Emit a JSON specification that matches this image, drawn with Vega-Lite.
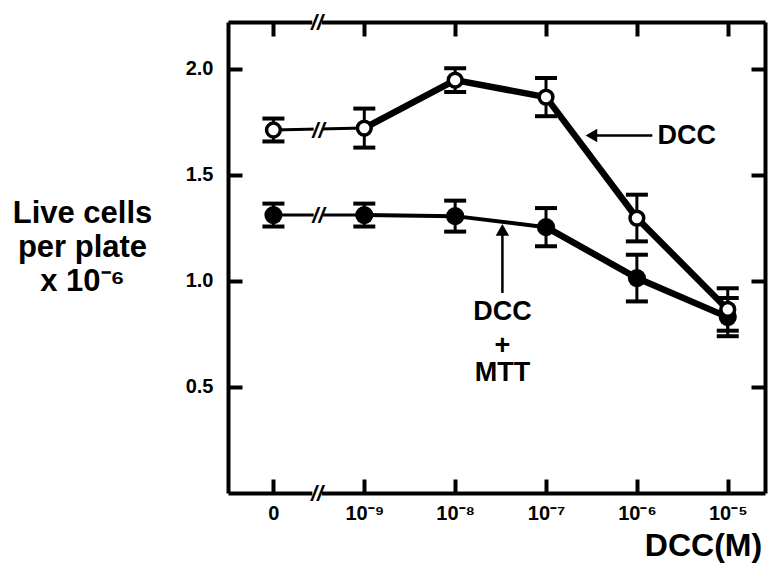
{
  "$schema": "https://vega.github.io/schema/vega-lite/v6.json",
  "width": 537,
  "height": 471,
  "autosize": "none",
  "padding": {"left": 228, "top": 22, "right": 9, "bottom": 85},
  "background": "white",
  "config": {
    "view": {"stroke": null},
    "font": "Liberation Sans",
    "axis": {
      "domainColor": "black",
      "domainWidth": 4,
      "labelFont": "Liberation Sans",
      "labelFontSize": 20,
      "labelColor": "black",
      "titleFont": "Liberation Sans",
      "titleColor": "black",
      "titleFontWeight": "bold"
    }
  },
  "datasets": {
    "pts": [
      {"i": 0, "conc": "0", "series": "DCC", "y": 1.711, "err": 0.054},
      {"i": 1, "conc": "1e-9", "series": "DCC", "y": 1.72, "err": 0.092},
      {"i": 2, "conc": "1e-8", "series": "DCC", "y": 1.946, "err": 0.056},
      {"i": 3, "conc": "1e-7", "series": "DCC", "y": 1.866, "err": 0.09},
      {"i": 4, "conc": "1e-6", "series": "DCC", "y": 1.296, "err": 0.11},
      {"i": 5, "conc": "1e-5", "series": "DCC", "y": 0.865, "err": 0.1},
      {"i": 0, "conc": "0", "series": "DCC+MTT", "y": 1.31, "err": 0.054},
      {"i": 1, "conc": "1e-9", "series": "DCC+MTT", "y": 1.31, "err": 0.054},
      {"i": 2, "conc": "1e-8", "series": "DCC+MTT", "y": 1.305, "err": 0.073},
      {"i": 3, "conc": "1e-7", "series": "DCC+MTT", "y": 1.253, "err": 0.09},
      {"i": 4, "conc": "1e-6", "series": "DCC+MTT", "y": 1.013, "err": 0.11},
      {"i": 5, "conc": "1e-5", "series": "DCC+MTT", "y": 0.829, "err": 0.09}
    ],
    "breaks": [
      {"x": 0.495, "y": 1.712, "where": "line"},
      {"x": 0.495, "y": 1.31, "where": "line"},
      {"x": 0.48, "y": 0, "where": "axis"},
      {"x": 0.48, "y": 2.22, "where": "axis"}
    ],
    "labels": [
      {"x": 4.55, "y": 1.685, "label": "DCC"},
      {"x": 2.52, "y": 0.853, "label": "DCC"},
      {"x": 2.52, "y": 0.695, "label": "+"},
      {"x": 2.52, "y": 0.565, "label": "MTT"}
    ],
    "arrows": [
      {"x": 3.5, "x2": 4.17, "y": 1.685, "y2": 1.685, "dir": "left"},
      {"x": 2.52, "x2": 2.52, "y": 0.943, "y2": 1.24, "dir": "up"}
    ]
  },
  "resolve": {"axis": {"x": "independent", "y": "independent"}},
  "layer": [
    {
      "data": {"name": "pts"},
      "transform": [{"filter": "datum.i <= 1"}],
      "mark": {"type": "line", "color": "black", "strokeWidth": 3},
      "encoding": {
        "x": {"field": "i", "type": "quantitative", "scale": {"domain": [-0.5, 5.41], "nice": false, "zero": false},
          "axis": {"orient": "bottom", "grid": false, "values": [0, 1, 2, 3, 4, 5], "tickColor": "black", "tickWidth": 4, "tickSize": -14, "title": "DCC(M)", "titleFontSize": 32, "titleAlign": "center", "titleX": 475, "titleY": 62, "titleBaseline": "alphabetic", "labelPadding": 24, "labelFontWeight": "bold",
            "labelExpr": "['0','10⁻⁹','10⁻⁸','10⁻⁷','10⁻⁶','10⁻⁵'][datum.value]"}},
        "y": {"field": "y", "type": "quantitative", "scale": {"domain": [0, 2.22], "nice": false},
          "axis": {"orient": "left", "grid": false, "values": [0.5, 1, 1.5, 2], "tickColor": "black", "tickWidth": 4, "tickSize": -14, "format": ".1f", "labelPadding": 29, "labelFontWeight": "bold",
            "title": ["Live cells", "per plate", "x 10⁻⁶"], "titleAngle": 0, "titleAlign": "center", "titleBaseline": "top", "titleX": -146, "titleY": 176, "titleFontSize": 31, "titleLineHeight": 34}},
        "detail": {"field": "series"}
      }
    },
    {
      "data": {"name": "pts"},
      "transform": [{"filter": "datum.i >= 1 && datum.series == 'DCC'"}],
      "mark": {"type": "line", "color": "black", "strokeWidth": 6.5},
      "encoding": {
        "x": {"field": "i", "type": "quantitative", "axis": {"orient": "top", "grid": false, "values": [0, 1, 2, 3, 4, 5], "tickColor": "black", "tickWidth": 4, "tickSize": -14, "labels": false, "title": null}},
        "y": {"field": "y", "type": "quantitative", "axis": {"orient": "right", "grid": false, "values": [0.5, 1, 1.5, 2], "tickColor": "black", "tickWidth": 4, "tickSize": -14, "labels": false, "title": null}}
      }
    },
    {
      "data": {"name": "pts"},
      "transform": [{"filter": "datum.i >= 1 && datum.i <= 3 && datum.series == 'DCC+MTT'"}],
      "mark": {"type": "line", "color": "black", "strokeWidth": 4},
      "encoding": {
        "x": {"field": "i", "type": "quantitative", "axis": null},
        "y": {"field": "y", "type": "quantitative", "axis": null}
      }
    },
    {
      "data": {"name": "pts"},
      "transform": [{"filter": "datum.i >= 3 && datum.series == 'DCC+MTT'"}],
      "mark": {"type": "line", "color": "black", "strokeWidth": 6.5},
      "encoding": {
        "x": {"field": "i", "type": "quantitative", "axis": null},
        "y": {"field": "y", "type": "quantitative", "axis": null}
      }
    },
    {
      "data": {"name": "pts"},
      "mark": {"type": "errorbar", "color": "black", "opacity": 1, "ticks": {"size": 22, "thickness": 4, "color": "black", "opacity": 1}, "rule": {"strokeWidth": 3, "color": "black", "opacity": 1}},
      "encoding": {
        "x": {"field": "i", "type": "quantitative", "axis": null},
        "y": {"field": "y", "type": "quantitative", "axis": null},
        "yError": {"field": "err"},
        "detail": {"field": "series"}
      }
    },
    {
      "data": {"name": "pts"},
      "transform": [{"filter": "datum.series == 'DCC+MTT'"}],
      "mark": {"type": "point", "shape": "circle", "filled": true, "color": "black", "size": 330, "opacity": 1},
      "encoding": {
        "x": {"field": "i", "type": "quantitative", "axis": null},
        "y": {"field": "y", "type": "quantitative", "axis": null}
      }
    },
    {
      "data": {"name": "pts"},
      "transform": [{"filter": "datum.series == 'DCC'"}],
      "mark": {"type": "point", "shape": "circle", "filled": false, "fill": "white", "stroke": "black", "strokeWidth": 3.5, "size": 190, "opacity": 1, "fillOpacity": 1},
      "encoding": {
        "x": {"field": "i", "type": "quantitative", "axis": null},
        "y": {"field": "y", "type": "quantitative", "axis": null}
      }
    },
    {
      "data": {"name": "breaks"},
      "mark": {"type": "point", "shape": "square", "filled": true, "color": "white", "size": 90, "opacity": 1},
      "encoding": {
        "x": {"field": "x", "type": "quantitative", "axis": null},
        "y": {"field": "y", "type": "quantitative", "axis": null}
      }
    },
    {
      "data": {"name": "breaks"},
      "mark": {"type": "text", "text": "//", "font": "Liberation Sans", "fontSize": 22, "fontWeight": "bold", "fontStyle": "italic", "color": "black", "align": "center", "baseline": "middle", "dy": 1},
      "encoding": {
        "x": {"field": "x", "type": "quantitative", "axis": null},
        "y": {"field": "y", "type": "quantitative", "axis": null}
      }
    },
    {
      "data": {"name": "arrows"},
      "mark": {"type": "rule", "color": "black", "strokeWidth": 2.5},
      "encoding": {
        "x": {"field": "x", "type": "quantitative", "axis": null},
        "x2": {"field": "x2"},
        "y": {"field": "y", "type": "quantitative", "axis": null},
        "y2": {"field": "y2"}
      }
    },
    {
      "data": {"name": "arrows"},
      "transform": [{"filter": "datum.dir == 'left'"}],
      "mark": {"type": "point", "shape": "triangle-left", "filled": true, "color": "black", "size": 180, "opacity": 1},
      "encoding": {
        "x": {"field": "x", "type": "quantitative", "axis": null},
        "y": {"field": "y", "type": "quantitative", "axis": null}
      }
    },
    {
      "data": {"name": "arrows"},
      "transform": [{"filter": "datum.dir == 'up'"}],
      "mark": {"type": "point", "shape": "triangle-up", "filled": true, "color": "black", "size": 180, "opacity": 1},
      "encoding": {
        "x": {"field": "x2", "type": "quantitative", "axis": null},
        "y": {"field": "y2", "type": "quantitative", "axis": null}
      }
    },
    {
      "data": {"name": "labels"},
      "mark": {"type": "text", "font": "Liberation Sans", "fontSize": 27, "fontWeight": "bold", "color": "black", "align": "center", "baseline": "middle"},
      "encoding": {
        "x": {"field": "x", "type": "quantitative", "axis": null},
        "y": {"field": "y", "type": "quantitative", "axis": null},
        "text": {"field": "label"}
      }
    }
  ]
}
